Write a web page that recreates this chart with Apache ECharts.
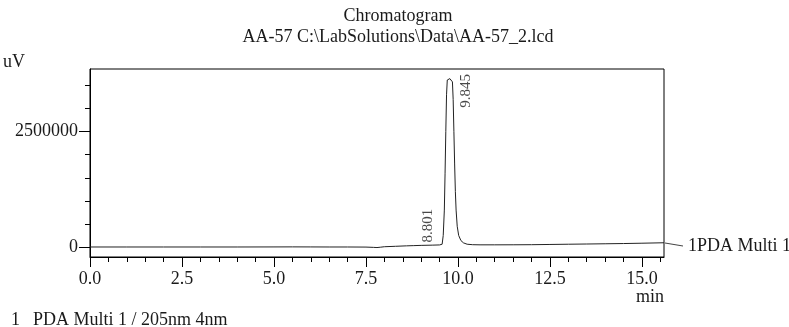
<!DOCTYPE html>
<html>
<head>
<meta charset="utf-8">
<script src="https://cdn.jsdelivr.net/npm/echarts@6/dist/echarts.min.js"></script>
<style>
html,body{margin:0;padding:0;background:#fff;}
#chart{width:789px;height:327px;}
</style>
</head>
<body>
<div id="chart"></div>
<script>
// ---- data ----
const times = [0, 1, 2, 3, 4, 5, 5.5, 6, 6.5, 7, 7.5, 7.7, 7.8, 7.9, 8.0, 8.3, 8.6, 8.8, 9.0, 9.3, 9.5, 9.57, 9.60, 9.63, 9.65, 9.67, 9.69, 9.71, 9.73, 9.78, 9.83, 9.85, 9.87, 9.89, 9.91, 9.93, 9.95, 9.98, 10.02, 10.08, 10.15, 10.25, 10.4, 10.6, 11, 11.5, 12, 12.5, 13, 13.5, 14, 14.5, 15, 15.6];
const signal = [0, 0, 0, 0, 0, 1500, 2500, 1500, 0, 0, -2000, -8000, -12000, -4000, 6000, 15000, 25000, 30000, 35000, 40000, 45000, 60000, 250000, 800000, 1600000, 2500000, 3300000, 3620000, 3650000, 3650000, 3640000, 3580000, 3200000, 2500000, 1800000, 1200000, 800000, 450000, 250000, 140000, 90000, 60000, 50000, 47000, 47000, 48000, 50000, 55000, 60000, 65000, 70000, 75000, 82000, 92000];
const peakTimes = [8.801, 9.845];
const peakHeights = [30000, 3580000];
const peakLabels = ['8.801', '9.845'];
const xMajorTicks = [0, 2.5, 5, 7.5, 10, 12.5, 15];
const xMinorTicks = [0, 0.5, 1, 1.5, 2, 2.5, 3, 3.5, 4, 4.5, 5, 5.5, 6, 6.5, 7, 7.5, 8, 8.5, 9, 9.5, 10, 10.5, 11, 11.5, 12, 12.5, 13, 13.5, 14, 14.5, 15, 15.5];
const yMajorTicks = [0, 2500000];
const yMinorTicks = [0, 500000, 1000000, 1500000, 2000000, 2500000, 3000000, 3500000];
const titleText = 'Chromatogram';
const subTitleText = 'AA-57 C:\\LabSolutions\\Data\\AA-57_2.lcd';
const channelName = '1PDA Multi 1';
const footNo = '1';
const footText = 'PDA Multi 1 / 205nm 4nm';

const FONT = 'Liberation Serif';
const TXT = '#1a1a1a';
const chart = echarts.init(document.getElementById('chart'), null, {renderer: 'canvas'});

const lineData = times.map((t, i) => [t, signal[i]]);
// offsets are given in the rotated (90deg) label frame: [-dy, dx]
const peakData = peakTimes.map((t, i) => ({
  value: [t, peakHeights[i]],
  label: {
    formatter: peakLabels[i],
    offset: i === 0 ? [20, 14] : [-9, 13.5]
  }
}));

const option = {
  animation: false,
  backgroundColor: '#fff',
  title: [
    {text: titleText, left: 398, top: 7, textAlign: 'center', padding: 0,
     textStyle: {fontFamily: FONT, fontSize: 18, fontWeight: 'normal', color: TXT}},
    {text: subTitleText, left: 398, top: 28, textAlign: 'center', padding: 0,
     textStyle: {fontFamily: FONT, fontSize: 18, fontWeight: 'normal', color: TXT}},
    {text: footNo, left: 11, top: 311, padding: 0,
     textStyle: {fontFamily: FONT, fontSize: 18, fontWeight: 'normal', color: TXT}},
    {text: footText, left: 33, top: 311, padding: 0,
     textStyle: {fontFamily: FONT, fontSize: 18, fontWeight: 'normal', color: TXT}}
  ],
  grid: {left: 88, right: 125, top: 69, bottom: 70, show: true, borderColor: '#000', borderWidth: 1, containLabel: false},
  xAxis: [
    {
      type: 'value', min: 0, max: 15.6, position: 'bottom',
      name: 'min', nameLocation: 'end', nameGap: 0,
      nameTextStyle: {fontFamily: FONT, fontSize: 18, color: TXT, align: 'right', verticalAlign: 'top', padding: [31, 0, 0, 0]},
      axisLine: {show: true, onZero: false, lineStyle: {color: '#000', width: 1}},
      axisTick: {show: true, length: 10, customValues: xMajorTicks, lineStyle: {color: '#000'}},
      axisLabel: {show: true, customValues: xMajorTicks, margin: 13, fontFamily: FONT, fontSize: 18, color: TXT,
                  formatter: v => v.toFixed(1)},
      splitLine: {show: false}
    },
    {
      type: 'value', min: 0, max: 15.6, position: 'bottom',
      axisLine: {show: false, onZero: false},
      axisTick: {show: true, length: 5, customValues: xMinorTicks, lineStyle: {color: '#000'}},
      axisLabel: {show: false},
      splitLine: {show: false}
    }
  ],
  yAxis: [
    {
      type: 'value', min: -216800, max: 3859000, position: 'left',
      name: 'uV', nameLocation: 'end', nameGap: 7,
      nameTextStyle: {fontFamily: FONT, fontSize: 18, color: TXT, align: 'right', verticalAlign: 'middle', padding: [0, 65, 0, 0]},
      axisLine: {show: true, onZero: false, lineStyle: {color: '#000', width: 1}},
      axisTick: {show: true, length: 11, customValues: yMajorTicks, lineStyle: {color: '#000'}},
      axisLabel: {show: true, customValues: yMajorTicks, margin: 12, fontFamily: FONT, fontSize: 18, color: TXT,
                  formatter: v => String(v)},
      splitLine: {show: false}
    },
    {
      type: 'value', min: -216800, max: 3859000, position: 'left',
      axisLine: {show: false, onZero: false},
      axisTick: {show: true, length: 5, customValues: yMinorTicks, lineStyle: {color: '#000'}},
      axisLabel: {show: false},
      splitLine: {show: false}
    }
  ],
  series: [
    {
      type: 'line', xAxisIndex: 0, yAxisIndex: 0,
      data: lineData, showSymbol: false, symbol: 'none', smooth: false,
      lineStyle: {color: '#222', width: 1},
      endLabel: {show: true, formatter: channelName, offset: [16, 4],
                 fontFamily: FONT, fontSize: 18, color: TXT},
      z: 3
    },
    {
      type: 'scatter', xAxisIndex: 0, yAxisIndex: 0,
      data: peakData, symbolSize: 0, silent: true,
      label: {show: true, position: 'inside', rotate: 90, align: 'center', verticalAlign: 'middle',
              fontFamily: FONT, fontSize: 15, color: TXT},
      z: 4
    }
  ],
  graphic: [
    {type: 'line', shape: {x1: 665, y1: 243, x2: 683, y2: 246}, style: {stroke: '#444', lineWidth: 1}, silent: true}
  ]
};
chart.setOption(option);
</script>
</body>
</html>
